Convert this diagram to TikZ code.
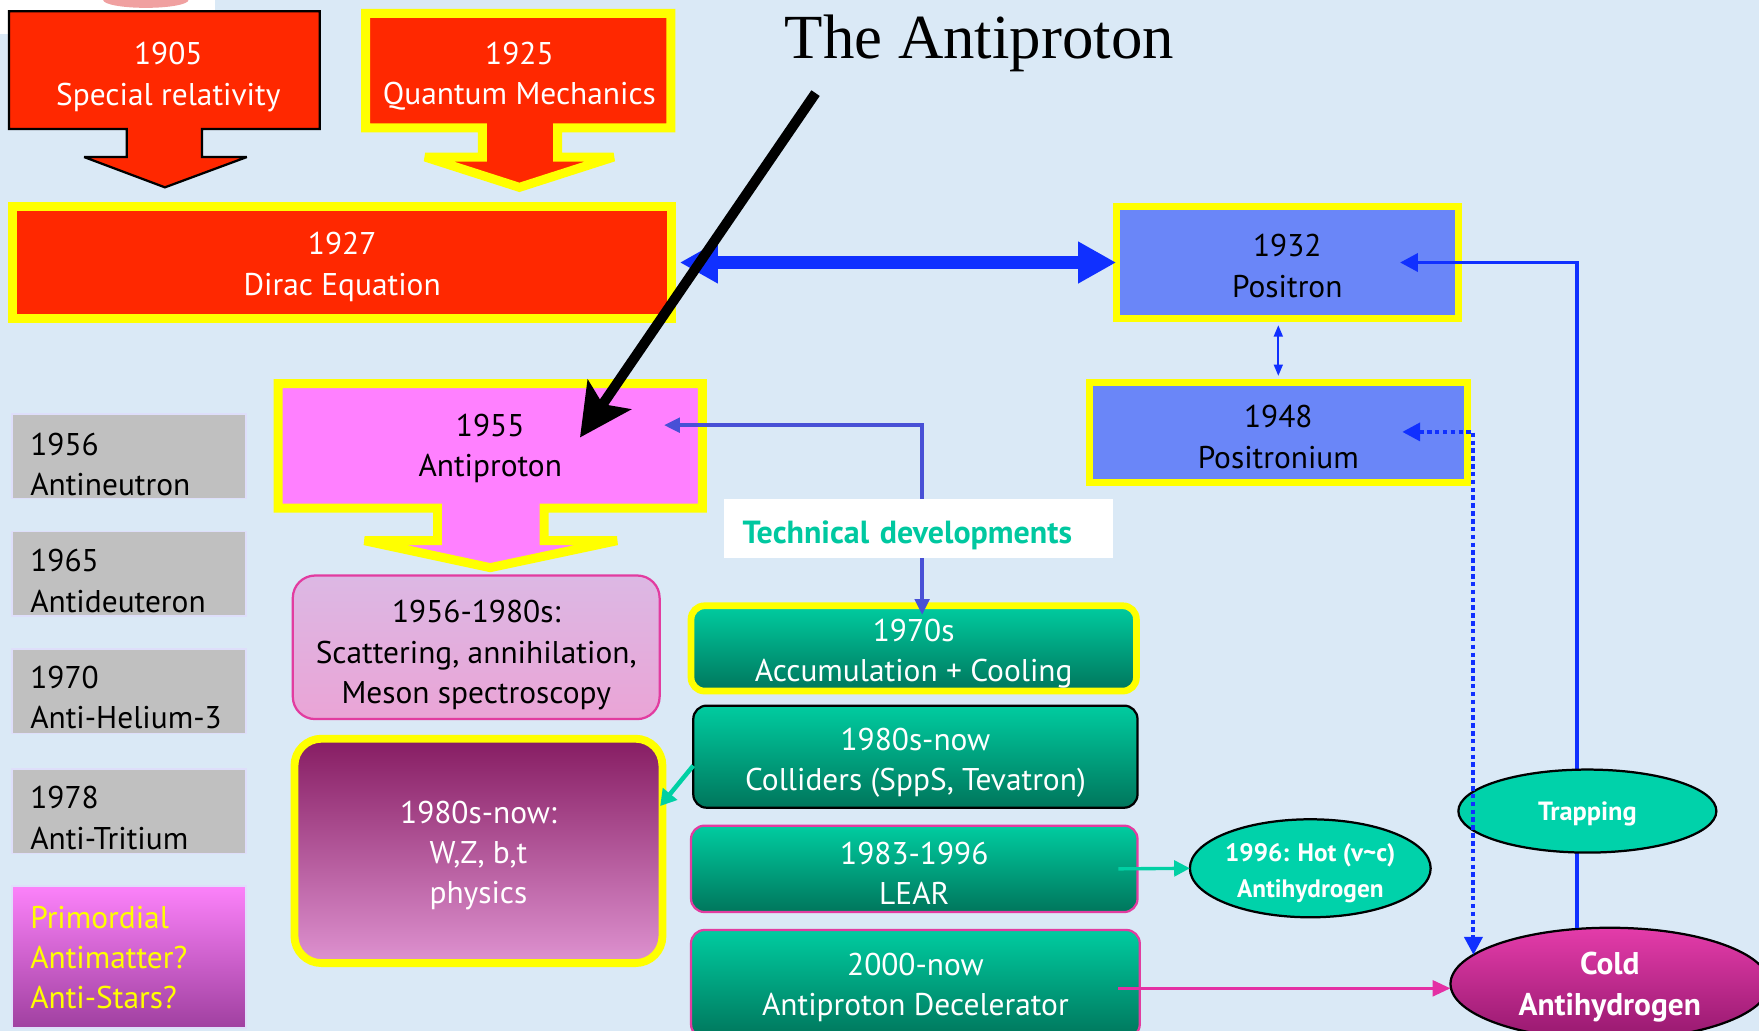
\documentclass[tikz,border=0pt]{standalone}
\usepackage{fontspec}
\setmainfont{PT Sans}
\newfontfamily\titlefont{Liberation Serif}
\usetikzlibrary{arrows.meta,shapes.geometric,calc}
\definecolor{bgblue}{RGB}{218,233,246}
\definecolor{boxred}{RGB}{255,40,0}
\definecolor{boxyellow}{RGB}{255,255,0}
\definecolor{posblue}{RGB}{106,134,248}
\definecolor{apmag}{RGB}{255,128,255}
\definecolor{greyfill}{RGB}{192,192,192}
\definecolor{greyedge}{RGB}{222,222,250}
\definecolor{tealtop}{RGB}{0,204,160}
\definecolor{tealbot}{RGB}{0,118,92}
\definecolor{arrowblue}{RGB}{16,48,255}
\definecolor{violetline}{RGB}{72,80,214}
\definecolor{tealline}{RGB}{0,208,164}
\definecolor{magline}{RGB}{228,48,164}
\definecolor{magedge}{RGB}{226,60,160}
\definecolor{techteal}{RGB}{0,200,160}
\definecolor{purptop}{RGB}{134,28,98}
\definecolor{purpbot}{RGB}{222,146,208}
\definecolor{lavtop}{RGB}{220,184,228}
\definecolor{lavbot}{RGB}{234,164,214}
\definecolor{primtop}{RGB}{252,130,250}
\definecolor{primbot}{RGB}{160,64,160}
\definecolor{coldtop}{RGB}{228,60,170}
\definecolor{coldbot}{RGB}{150,24,110}
\definecolor{ellteal}{RGB}{0,210,170}
\definecolor{blobpink}{RGB}{240,160,160}
\newcommand\bodyfont{\fontsize{28}{36}\selectfont}
\newcommand\techfont{\bfseries\fontsize{28.5}{32}\selectfont}
\newcommand\hotfont{\bfseries\fontsize{22.5}{32}\selectfont}
\newcommand\trapfont{\bfseries\fontsize{23.5}{32}\selectfont}
\newcommand\coldfont{\bfseries\fontsize{28}{36}\selectfont}
\newcommand\rs[1]{\rule{0pt}{#1}}
\tikzset{
  bigtip/.tip={Triangle[length=34pt,width=35pt]},
  smalltip/.tip={Triangle[length=14pt,width=13pt]}
}
\begin{document}
\begin{tikzpicture}[x=1pt,y=-1pt,
  every node/.style={inner sep=0pt, outer sep=0pt},
  bodytxt/.style={font=\bodyfont, align=center},
  calloutred/.style={fill=boxred, line join=miter, miter limit=2},
  redbox/.style={bodytxt, draw=boxyellow, line width=8pt, fill=boxred, text=white},
  bluebox/.style={bodytxt, draw=boxyellow, line width=6pt, fill=posblue, text=black},
  greybox/.style={draw=greyedge, line width=1.5pt, fill=greyfill, minimum width=208.5pt, minimum height=75.5pt},
  sidetxt/.style={font=\bodyfont, align=left, text width=176pt},
  tealbox/.style={bodytxt, text=white, rounded corners=12pt, top color=tealtop, bottom color=tealbot},
  ellnode/.style={ellipse, draw=black, line width=2pt, text=white, align=center}
]
\fill[bgblue] (0,0) rectangle (1568,919);
\useasboundingbox (0,0) rectangle (1568,919);
% top-left artefact
\fill[white] (0,0) rectangle (192,30);
\fill[blobpink] (130,0) ellipse [x radius=38, y radius=7];

% 1905 callout
\draw[calloutred, draw=black, line width=2pt] (8,10) -- (285,10) -- (285,115) -- (180,115) -- (180,140) -- (220,140) -- (147,167) -- (75,140) -- (113,140) -- (113,115) -- (8,115) -- cycle;
\node[bodytxt, text=white] (sr) at (150,68.5) {1905\\Special relativity};

% 1925 callout
\draw[calloutred, draw=boxyellow, line width=8pt] (326,12) -- (598,12) -- (598,114) -- (497,114) -- (497,140) -- (547,140) -- (463,167) -- (379,140) -- (430,140) -- (430,114) -- (326,114) -- cycle;
\node[bodytxt, text=white] (qm) at (463,68) {1925\\Quantum Mechanics};

% Dirac
\node[redbox, minimum width=588pt, minimum height=100pt] (dirac) at (305,234) {\rs{28pt}1927\\Dirac Equation};

% Positron / Positronium
\node[bluebox, minimum width=305pt, minimum height=100pt] (positron) at (1147.5,234) {\rs{26pt}1932\\Positron};
\node[bluebox, minimum width=337pt, minimum height=89pt] (positronium) at (1139.5,385.5) {\rs{28pt}1948\\Positronium};

% Antiproton callout
\draw[fill=apmag, draw=boxyellow, line width=8pt, line join=miter, miter limit=2] (248,342) -- (626,342) -- (626,453) -- (485,453) -- (485,482) -- (550,482) -- (437,506) -- (325,482) -- (390,482) -- (390,453) -- (248,453) -- cycle;
\node[bodytxt] (ap) at (437,400) {1955\\Antiproton};

% left column
\node[greybox] (g1) at (115,406.5) {};
\node[sidetxt] (g1t) at (115,414) {1956\\Antineutron};
\node[greybox] (g2) at (115,511.5) {};
\node[sidetxt] (g2t) at (115,518) {1965\\Antideuteron};
\node[greybox] (g3) at (115,616) {};
\node[sidetxt] (g3t) at (115,622) {1970\\Anti-Helium-3};
\node[greybox] (g4) at (115,723) {};
\node[sidetxt] (g4t) at (115,729) {1978\\Anti-Tritium};
\node[draw=greyedge, line width=1.5pt, top color=primtop, bottom color=primbot, minimum width=208.5pt, minimum height=126.5pt] (prim) at (115,853) {};
\node[sidetxt, text=boxyellow] (primt) at (115,853.5) {Primordial\\Antimatter?\\Anti-Stars?};

% physics boxes
\node[bodytxt, draw=magedge, line width=2pt, rounded corners=20pt, top color=lavtop, bottom color=lavbot, minimum width=327pt, minimum height=128pt] (scat) at (424.5,577) {\rs{34pt}1956-1980s:\\Scattering, annihilation,\\Meson spectroscopy};
\node[bodytxt, text=white, draw=boxyellow, line width=7pt, rounded corners=24pt, top color=purptop, bottom color=purpbot, minimum width=328pt, minimum height=200pt] (phys) at (426.5,758.5) {\rs{28pt}1980s-now:\\W,Z, b,t\\physics};

% technical boxes
\node[tealbox, draw=boxyellow, line width=6pt, minimum width=397pt, minimum height=76pt] (acc) at (814.5,578) {\rs{29pt}1970s\\Accumulation + Cooling};
\node[tealbox, draw=black, line width=2pt, minimum width=396pt, minimum height=91pt] (coll) at (816,674.5) {\rs{31pt}1980s-now\\Colliders (SppS, Tevatron)};
\node[tealbox, draw=magedge, line width=2pt, minimum width=398pt, minimum height=77pt] (lear) at (815,774.5) {\rs{28pt}1983-1996\\LEAR};
\node[tealbox, draw=magedge, line width=2pt, minimum width=400pt, minimum height=96pt] (ad) at (816,877) {\rs{26pt}2000-now\\Antiproton Decelerator};

% ellipses
\node[ellnode, top color=coldtop, bottom color=coldbot, minimum width=284pt, minimum height=100pt, font=\coldfont] (cold) at (1435,877) {\rs{26pt}Cold\\Antihydrogen};
\node[ellnode, fill=ellteal, minimum width=210pt, minimum height=78pt, font=\hotfont] (hot) at (1168,774) {\rs{25pt}1996: Hot (v\textasciitilde c)\\Antihydrogen};

% connectors
\draw[arrowblue, line width=11pt, {bigtip}-{bigtip}, shorten <=7pt] (dirac.east) -- (positron.west);
\draw[arrowblue, line width=1.5pt, {Triangle[length=10pt,width=8pt]}-{Triangle[length=10pt,width=8pt]}, shorten <=6pt, shorten >=6pt] (positron.south -| positronium.north) -- (positronium.north);

\coordinate (apin) at (592,379);
\draw[violetline, line width=3pt, {smalltip}-{smalltip}] (apin) -| ($(acc.north)+(7.5,8)$);
\node[fill=white, minimum width=347pt, minimum height=52pt, text width=313pt, align=left, inner xsep=17pt, font=\techfont, text=techteal] (tech) at (818.5,471) {\rs{32pt}Technical developments};

\coordinate (tcorner) at (1406,234);
\coordinate (pin) at (1248,234);
\draw[arrowblue, line width=3.5pt, -{Triangle[length=16pt,width=16pt]}] (cold.north -| tcorner) |- (pin);
\node[ellnode, fill=ellteal, minimum width=230pt, minimum height=74pt, font=\trapfont] (trap) at (1415,723) {\rs{21pt}Trapping};

\coordinate (pnin) at (1250,385);
\draw[arrowblue, line width=3.5pt, dash pattern=on 4pt off 3pt, {Triangle[length=16pt,width=16pt]}-{Triangle[length=16pt,width=16pt]}] (pnin) -| (cold.168);

\coordinate (collout) at ($(coll.west)+(0,8)$);
\coordinate (physin) at ($(phys.east)+(-2,-40)$);
\draw[tealline, line width=4pt, -{Triangle[length=14pt,width=16pt]}] (collout) -- (physin);
\coordinate (learout) at ($(lear.east)+(-17,0)$);
\draw[tealline, line width=3pt, -{Triangle[length=14pt,width=14pt]}] (learout) -- (hot.west);
\coordinate (adout) at ($(ad.east)+(-19,4)$);
\draw[magline, line width=3pt, -{Triangle[length=16pt,width=14pt]}] (adout) -- (adout -| cold.west);

% title and pointer
\node[font=\titlefont\fontsize{56}{60}\selectfont, anchor=base] (title) at (873,52) {The Antiproton};
\coordinate (bs) at (727,83);
\coordinate (bt) at (517,390);
\draw[black, line width=9pt, -{Stealth[length=46pt,width=46pt,inset=10pt]}] (bs) -- (bt);
\end{tikzpicture}
\end{document}
